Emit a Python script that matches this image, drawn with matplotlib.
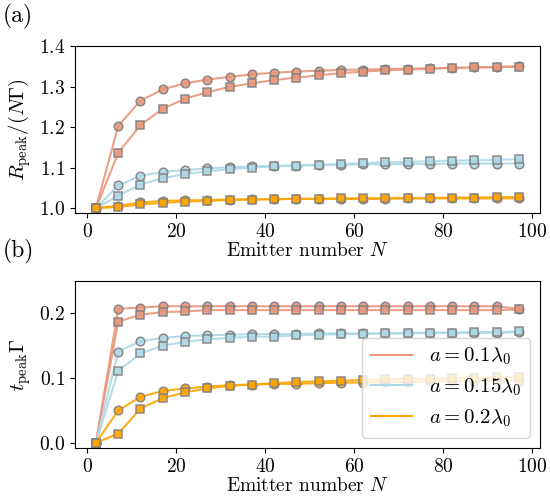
import matplotlib
matplotlib.use("Agg")
from matplotlib import pyplot as plt

plt.rcParams['font.family'] = 'serif'
plt.rcParams['font.serif'] = ['cmr10']
plt.rcParams['mathtext.fontset'] = 'cm'
plt.rcParams['axes.formatter.use_mathtext'] = True

N = [2, 7, 12, 17, 22, 27, 32, 37, 42, 47, 52, 57, 62, 67, 72, 77, 82, 87, 92, 97]

labels = [r'$a=0.1\lambda_0$', r'$a=0.15\lambda_0$', r'$a=0.2\lambda_0$']
colors = ['darksalmon', 'lightblue', 'orange']

# panel (a): R_peak/(N Gamma)
r_circ_01 = [1.0, 1.203, 1.265, 1.293, 1.308, 1.317, 1.324, 1.330, 1.334, 1.337,
             1.339, 1.341, 1.342, 1.343, 1.344, 1.345, 1.346, 1.347, 1.348, 1.350]
r_sq_01 = [1.0, 1.136, 1.205, 1.245, 1.270, 1.286, 1.299, 1.308, 1.316, 1.322,
           1.328, 1.333, 1.337, 1.340, 1.342, 1.344, 1.346, 1.347, 1.348, 1.349]
r_circ_015 = [1.0, 1.056, 1.080, 1.089, 1.094, 1.098, 1.101, 1.103, 1.104, 1.105,
              1.106, 1.107, 1.108, 1.108, 1.109, 1.109, 1.110, 1.110, 1.110, 1.110]
r_sq_015 = [1.0, 1.031, 1.058, 1.074, 1.084, 1.091, 1.096, 1.100, 1.103, 1.105,
            1.107, 1.109, 1.111, 1.113, 1.114, 1.116, 1.117, 1.118, 1.119, 1.121]
r_circ_02 = [1.0, 1.006, 1.014, 1.018, 1.019, 1.020, 1.021, 1.022, 1.022, 1.023,
             1.023, 1.023, 1.023, 1.023, 1.024, 1.024, 1.024, 1.024, 1.024, 1.024]
r_sq_02 = [1.0, 1.003, 1.009, 1.013, 1.016, 1.018, 1.020, 1.021, 1.022, 1.023,
           1.023, 1.024, 1.024, 1.025, 1.025, 1.025, 1.026, 1.026, 1.027, 1.027]

# panel (b): t_peak Gamma
t_circ_01 = [0.0, 0.207, 0.209, 0.211, 0.211, 0.211, 0.211, 0.211, 0.211, 0.211,
             0.211, 0.211, 0.211, 0.211, 0.211, 0.211, 0.211, 0.211, 0.211, 0.207]
t_sq_01 = [0.0, 0.187, 0.198, 0.202, 0.203, 0.205, 0.205, 0.205, 0.205, 0.205,
           0.205, 0.205, 0.205, 0.205, 0.205, 0.205, 0.205, 0.205, 0.205, 0.206]
t_circ_015 = [0.0, 0.141, 0.157, 0.162, 0.165, 0.166, 0.167, 0.168, 0.168, 0.168,
              0.169, 0.169, 0.169, 0.169, 0.170, 0.170, 0.170, 0.170, 0.170, 0.171]
t_sq_015 = [0.0, 0.111, 0.138, 0.150, 0.156, 0.160, 0.162, 0.164, 0.164, 0.166,
            0.167, 0.168, 0.168, 0.169, 0.169, 0.170, 0.170, 0.171, 0.171, 0.172]
t_circ_02 = [0.0, 0.050, 0.071, 0.080, 0.084, 0.087, 0.089, 0.090, 0.091, 0.091,
             0.092, 0.093, 0.093, 0.094, 0.094, 0.095, 0.095, 0.095, 0.096, 0.096]
t_sq_02 = [0.0, 0.014, 0.053, 0.069, 0.078, 0.084, 0.088, 0.090, 0.092, 0.094,
           0.095, 0.096, 0.097, 0.098, 0.099, 0.099, 0.100, 0.100, 0.101, 0.102]

r_circ = [r_circ_01, r_circ_015, r_circ_02]
r_sq = [r_sq_01, r_sq_015, r_sq_02]
t_circ = [t_circ_01, t_circ_015, t_circ_02]
t_sq = [t_sq_01, t_sq_015, t_sq_02]

fig = plt.figure(figsize=(5.5, 5), dpi=100)
ax1 = fig.add_axes([0.136, 0.574, 0.846, 0.334])
ax2 = fig.add_axes([0.136, 0.104, 0.846, 0.334])

style = dict(markeredgecolor='gray', markersize=6.2, markeredgewidth=1.1, lw=1.5)

for i in range(3):
    ax1.plot(N, r_circ[i], 'o-', color=colors[i], alpha=0.9, **style)
    ax1.plot(N, r_sq[i], 's-', color=colors[i], alpha=0.9, **style)
    ax2.plot(N, t_circ[i], 'o-', color=colors[i], alpha=0.9, **style)
    ax2.plot(N, t_sq[i], 's-', color=colors[i], alpha=0.9, **style)

# legend entries: lines only
handles = []
for i in range(3):
    h, = ax2.plot([], [], '-', color=colors[i], lw=1.5, label=labels[i])
    handles.append(h)
ax2.legend(handles=handles, loc='lower right', fontsize=15, handlelength=2.0,
           labelspacing=0.45)

ax1.set_ylim(0.988, 1.4)
ax1.set_yticks([1.0, 1.1, 1.2, 1.3, 1.4])
ax2.set_ylim(-0.008, 0.25)
ax2.set_yticks([0.0, 0.1, 0.2])

for ax in [ax1, ax2]:
    ax.set_xticks([0, 20, 40, 60, 80, 100])
    ax.tick_params(labelsize=14)
    ax.set_xlabel(r'Emitter number $N$', fontsize=14, labelpad=1)

ax1.set_ylabel(r'$R_{\rm peak}/(N\Gamma)$', fontsize=15)
ax2.set_ylabel(r'$t_{\rm peak}\Gamma$', fontsize=15)

fig.text(0.005, 0.955, '(a)', fontsize=17)
fig.text(0.005, 0.485, '(b)', fontsize=17)

plt.savefig("out.png")
